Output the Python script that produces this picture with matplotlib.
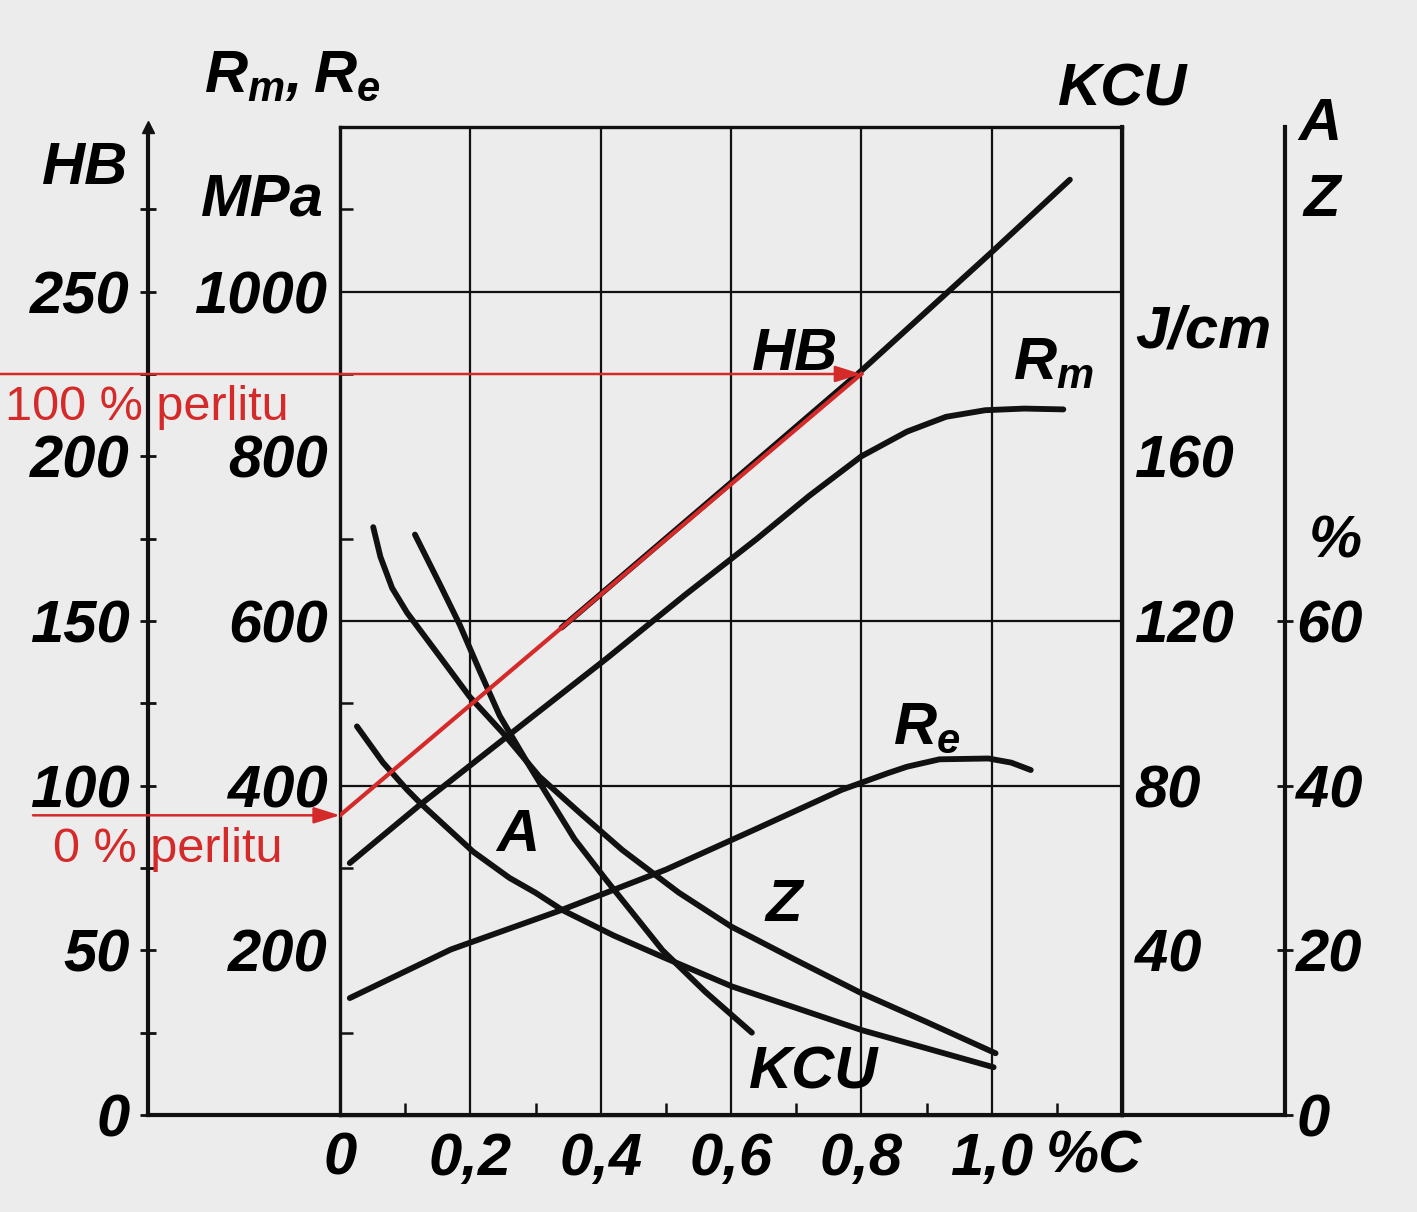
import matplotlib.pyplot as plt
from matplotlib.transforms import blended_transform_factory

plt.rcParams['font.family'] = ['Liberation Sans', 'DejaVu Sans']
plt.rcParams['font.style'] = 'italic'
plt.rcParams['font.weight'] = 'bold'
plt.rcParams['font.size'] = 43
plt.rcParams['mathtext.fontset'] = 'custom'
plt.rcParams['mathtext.it'] = 'Liberation Sans:italic:bold'
plt.rcParams['mathtext.rm'] = 'Liberation Sans:italic:bold'

# carbon content (%C) vs. properties of annealed carbon steel
hb_c = [0.34, 0.6, 0.8, 1.0, 1.12]
hb_val = [148, 192, 226, 262, 284]                    # HB

rm_c = [0.015, 0.12, 0.26, 0.41, 0.53, 0.64, 0.72, 0.80, 0.87, 0.93, 0.99, 1.05, 1.11]
rm_val = [306, 375, 462, 555, 632, 700, 752, 800, 830, 848, 856, 858, 857]   # MPa

re_c = [0.015, 0.17, 0.34, 0.50, 0.64, 0.77, 0.84, 0.87, 0.92, 0.995, 1.03, 1.06]
re_val = [142, 201, 249, 298, 348, 395, 415, 423, 432, 433, 428, 419]        # MPa

kcu_c = [0.115, 0.153, 0.184, 0.214, 0.245, 0.286, 0.317, 0.36, 0.409, 0.495, 0.56, 0.632]
kcu_val = [141, 129, 119, 108, 97, 86, 78, 67, 57, 40, 30, 20]              # J/cm

z_c = [0.051, 0.062, 0.08, 0.103, 0.153, 0.199, 0.25, 0.306, 0.368, 0.433, 0.52, 0.60, 0.70, 0.80, 0.90, 1.006]
z_val = [71.4, 67.8, 64.0, 61.0, 55.7, 50.8, 46.4, 41.1, 36.7, 32.2, 27.0, 22.9, 18.8, 14.8, 11.3, 7.5]  # %

a_c = [0.026, 0.066, 0.103, 0.123, 0.204, 0.26, 0.30, 0.341, 0.42, 0.495, 0.602, 0.70, 0.801, 0.90, 1.003]
a_val = [47.2, 42.8, 39.5, 37.9, 32.0, 28.8, 27.0, 24.9, 21.8, 19.2, 15.6, 13.0, 10.3, 8.1, 5.8]  # %

perlite_c = [0.0, 0.8]
perlite_hb = [91, 225]

x_ticks = [0, 0.2, 0.4, 0.6, 0.8, 1.0]
x_labels = ['0', '0,2', '0,4', '0,6', '0,8', '1,0']
mpa_ticks = [200, 400, 600, 800, 1000]
hb_ticks = [0, 50, 100, 150, 200, 250]
kcu_ticks = [40, 80, 120, 160]
az_ticks = [0, 20, 40, 60]
grid_mpa = [400, 600, 1000]

# one unit of each scale expressed in MPa
HB_F, KCU_F, PCT_F = 4, 5, 10

W, H = 1417, 1212
bg = '#ececec'
ink = '#111111'
red = '#d42a2a'

fig = plt.figure(figsize=(W / 100, H / 100), dpi=100, facecolor=bg)
ax = fig.add_axes([340 / W, 97 / H, 782 / W, 988 / H], facecolor=bg)
ax.set_xlim(0, 1.2)
ax.set_ylim(0, 1200)

for s in ax.spines.values():
    s.set_linewidth(2.4)
    s.set_color(ink)

for x in x_ticks[1:]:
    ax.axvline(x, color=ink, lw=1.6, zorder=1)
for y in grid_mpa:
    ax.axhline(y, color=ink, lw=1.6, zorder=1)

ax.set_xticks(x_ticks, x_labels)
ax.set_xticks([0.1, 0.3, 0.5, 0.7, 0.9, 1.1], minor=True)
ax.set_yticks(mpa_ticks, [str(v) for v in mpa_ticks])
ax.set_yticks(range(100, 1200, 200), minor=True)
ax.tick_params(which='major', length=0)
ax.tick_params(axis='x', which='major', pad=12)
ax.tick_params(axis='y', which='major', pad=9)
ax.tick_params(which='minor', direction='in', length=9, width=1.8, color=ink)
ax.text(1.083, -0.0577, '%C', ha='left', va='baseline',
        transform=blended_transform_factory(ax.transData, ax.transAxes))

# extra scales
hb_loc = (148 - 340) / 782
az_loc = (1285 - 340) / 782
hb_ax = ax.secondary_yaxis(hb_loc, functions=(lambda m: m / HB_F, lambda h: h * HB_F))
hb_ax.set_yticks(hb_ticks, [str(v) for v in hb_ticks])
hb_ax.set_yticks(range(25, 300, 50), minor=True)
hb_ax.tick_params(which='both', direction='inout', length=12, width=2, pad=7, color=ink)
kcu_ax = ax.secondary_yaxis('right', functions=(lambda m: m / KCU_F, lambda k: k * KCU_F))
kcu_ax.set_yticks(kcu_ticks, [str(v) for v in kcu_ticks])
kcu_ax.tick_params(length=0, pad=9)
az_ax = ax.secondary_yaxis(az_loc, functions=(lambda m: m / PCT_F, lambda p: p * PCT_F))
az_ax.set_yticks(az_ticks, [str(v) for v in az_ticks])
az_ax.tick_params(direction='inout', length=12, width=2, pad=2, color=ink)
for sec in (hb_ax, kcu_ax, az_ax):
    for s in sec.spines.values():
        s.set_linewidth(3)
        s.set_color(ink)

ax.plot([hb_loc, az_loc], [0, 0], transform=ax.transAxes, color=ink, lw=3, clip_on=False)
ax.plot([hb_loc], [1.0], transform=ax.transAxes, marker='^', ms=9, color=ink, clip_on=False)

# curves
curve_kw = dict(color=ink, lw=4.2, solid_capstyle='round', solid_joinstyle='round', zorder=3)
ax.plot(hb_c, [v * HB_F for v in hb_val], **curve_kw)
ax.plot(rm_c, rm_val, **curve_kw)
ax.plot(re_c, re_val, **curve_kw)
ax.plot(kcu_c, [v * KCU_F for v in kcu_val], **curve_kw)
ax.plot(z_c, [v * PCT_F for v in z_val], **curve_kw)
ax.plot(a_c, [v * PCT_F for v in a_val], **curve_kw)

ax.text(0.698, 924, 'HB', ha='center', va='center')
ax.text(1.095, 912, '$R_m$', ha='center', va='center')
ax.text(0.90, 470, '$R_e$', ha='center', va='center')
ax.text(0.273, 340, 'A', ha='center', va='center')
ax.text(0.681, 255, 'Z', ha='center', va='center')
ax.text(0.727, 51, 'KCU', ha='center', va='center')

# axis titles
def ft(px, py, s, **kw):
    fig.text(px / W, 1 - py / H, s, ha='center', va='center', **kw)

ft(85, 168, 'HB')
ft(262, 200, 'MPa')
ft(292, 76, '$R_m,R_e$')
ft(1123, 90, 'KCU')
ft(1203, 332, 'J/cm')
ft(1320, 125, 'A')
ft(1322, 200, 'Z')
ft(1335, 542, '%')

# red perlite annotation
ax.plot(perlite_c, [v * HB_F for v in perlite_hb], color=red, lw=3, zorder=5)
tr = blended_transform_factory(fig.transFigure, ax.transData)
arrow = dict(arrowstyle='-|>,head_length=0.8,head_width=0.25', color=red, lw=1.8,
             mutation_scale=20, shrinkA=0, shrinkB=0)
ax.annotate('', xy=(perlite_c[0], perlite_hb[0] * HB_F), xycoords='data',
            xytext=(33 / W, perlite_hb[0] * HB_F), textcoords=tr, arrowprops=arrow,
            annotation_clip=False, zorder=5)
ax.annotate('', xy=(perlite_c[1], perlite_hb[1] * HB_F), xycoords='data',
            xytext=(0, perlite_hb[1] * HB_F), textcoords=tr, arrowprops=arrow,
            annotation_clip=False, zorder=5)
red_kw = dict(color=red, fontsize=35, style='normal', weight='normal', ha='left', va='baseline')
fig.text(5 / W, 1 - 420 / H, '100 % perlitu', **red_kw)
fig.text(53 / W, 1 - 862 / H, '0 % perlitu', **red_kw)

fig.savefig('out.png', dpi=100, facecolor=bg)
